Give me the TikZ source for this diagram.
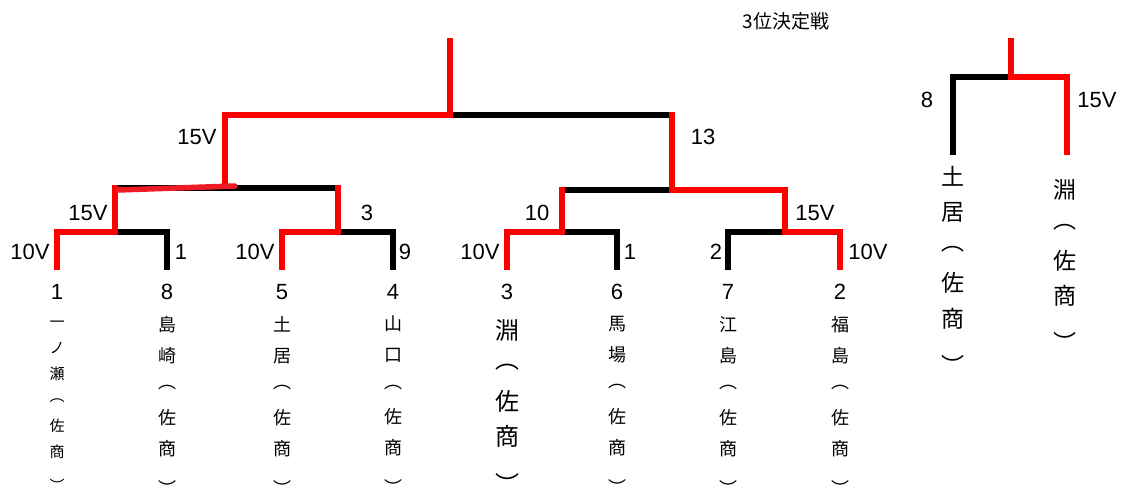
\documentclass[tikz,border=0pt]{standalone}
\usepackage{fontspec}
\setmainfont{Liberation Sans}
\newfontfamily\jpfont{Noto Sans CJK JP}
\usetikzlibrary{calc}
\newcommand{\vopen}{\raisebox{0.25em}{︵}}
\newcommand{\vclose}{\raisebox{-0.5em}{︶}}

\begin{document}
\begin{tikzpicture}[
            x=1pt, y=-1pt,
            win/.style={red, line width=6pt},
            lose/.style={black, line width=6pt},
            pen/.style={draw={rgb,255:red,237;green,28;blue,36}, line width=5.5pt, line cap=round},
            pts/.style={font=\fontsize{22}{22}\selectfont, inner sep=0pt},
            namecol/.style={font=\jpfont\fontsize{18}{31}\selectfont, align=center, anchor=north, inner sep=0pt}
        ]
            \useasboundingbox (0,0) rectangle (1125,489);

            % 1回戦の端
            \coordinate (a1) at (57,270);
            \coordinate (a2) at (167,270);
            \coordinate (a3) at (282,270);
            \coordinate (a4) at (393,270);
            \coordinate (a5) at (507,270);
            \coordinate (a6) at (617,270);
            \coordinate (a7) at (728,270);
            \coordinate (a8) at (840,270);
            \coordinate (m1) at (115,232);
            \coordinate (m2) at (338,232);
            \coordinate (m3) at (562,232);
            \coordinate (m4) at (785,232);
            % 準決勝・決勝
            \coordinate (s1) at (225,188);
            \coordinate (s2) at (672,190);
            \coordinate (f) at (450,115);
            \coordinate (top) at (450,38);

            % 負け側
            \draw[lose] (a2) |- (m1);
            \draw[lose] (a4) |- (m2);
            \draw[lose] (a6) |- (m3);
            \draw[lose] (a7) |- (m4);
            \draw[lose] (m1 |- s1) -- (m2 |- s1);
            \draw[lose] (m3 |- s2) -- (s2);
            \draw[lose] (f) -- (s2 |- f);

            % 勝ち上がり
            \draw[win, shorten >=-3pt] (a1) |- (m1) -- (m1 |- s1);
            \draw[win, shorten >=-3pt] (a3) |- (m2) -- (m2 |- s1);
            \draw[win, shorten >=-3pt] (a5) |- (m3) -- (m3 |- s2);
            \draw[win, shorten >=-3pt] (a8) |- (m4) -- (m4 |- s2) -- (s2) -- (s2 |- f);
            \draw[win] (s1) -- (s1 |- f) -- (f) -- (top);
            \coordinate (pA) at (118,190);
            \coordinate (pB) at (235,186);
            \draw[pen] (pA) -- (pB);

            % 3位決定戦
            \coordinate (b1) at (953,155);
            \coordinate (b2) at (1067,155);
            \coordinate (bm) at (1011,77);
            \coordinate (btop) at (1011,38);
            \draw[lose] (b1) |- (bm);
            \draw[win] (b2) |- (bm) -- (btop);
            \node[font=\jpfont\fontsize{19}{19}\selectfont] (ttl) at (786,21) {3位決定戦};

            % スコア
            \node[pts] (vF1) at (197,137) {15V};
            \node[pts] (vF2) at (703,137) {13};
            \node[pts] (vS1) at (88,213) {15V};
            \node[pts] (vS2) at (367,213) {3};
            \node[pts] (vS3) at (537,213) {10};
            \node[pts] (vS4) at (815,213) {15V};
            \node[pts] (v1) at (30,252) {10V};
            \node[pts] (v2) at (181,252) {1};
            \node[pts] (v3) at (255,252) {10V};
            \node[pts] (v4) at (405,252) {9};
            \node[pts] (v5) at (480,252) {10V};
            \node[pts] (v6) at (630,252) {1};
            \node[pts] (v7) at (716,252) {2};
            \node[pts] (v8) at (868,252) {10V};
            \node[pts] (vB1) at (927,100) {8};
            \node[pts] (vB2) at (1097,100) {15V};

            % シード番号
            \node[pts] (n1) at (57,292) {1};
            \node[pts] (n2) at (167,292) {8};
            \node[pts] (n3) at (282,292) {5};
            \node[pts] (n4) at (393,292) {4};
            \node[pts] (n5) at (507,292) {3};
            \node[pts] (n6) at (617,292) {6};
            \node[pts] (n7) at (728,292) {7};
            \node[pts] (n8) at (840,292) {2};

            % 選手名（縦書き）
            \node[namecol, font=\jpfont\fontsize{15}{26}\selectfont] (p1) at (57,321) {一\\ノ\\瀬\\\vopen\\佐\\商\\\vclose};
            \node[namecol] (p2) at (167,316) {島\\崎\\\vopen\\佐\\商\\\vclose};
            \node[namecol] (p3) at (282,316) {土\\居\\\vopen\\佐\\商\\\vclose};
            \node[namecol] (p4) at (393,316) {山\\口\\\vopen\\佐\\商\\\vclose};
            \node[namecol, font=\jpfont\fontsize{24}{35.5}\selectfont] (p5) at (507,319) {淵\\\vopen\\佐\\商\\\vclose};
            \node[namecol] (p6) at (617,316) {馬\\場\\\vopen\\佐\\商\\\vclose};
            \node[namecol] (p7) at (728,316) {江\\島\\\vopen\\佐\\商\\\vclose};
            \node[namecol] (p8) at (840,316) {福\\島\\\vopen\\佐\\商\\\vclose};
            \node[namecol, font=\jpfont\fontsize{23}{35.5}\selectfont] (q1) at (953,166) {土\\居\\\vopen\\佐\\商\\\vclose};
            \node[namecol, font=\jpfont\fontsize{23}{35.5}\selectfont] (q2) at (1065,179) {淵\\\vopen\\佐\\商\\\vclose};
        \end{tikzpicture}
\end{document}
